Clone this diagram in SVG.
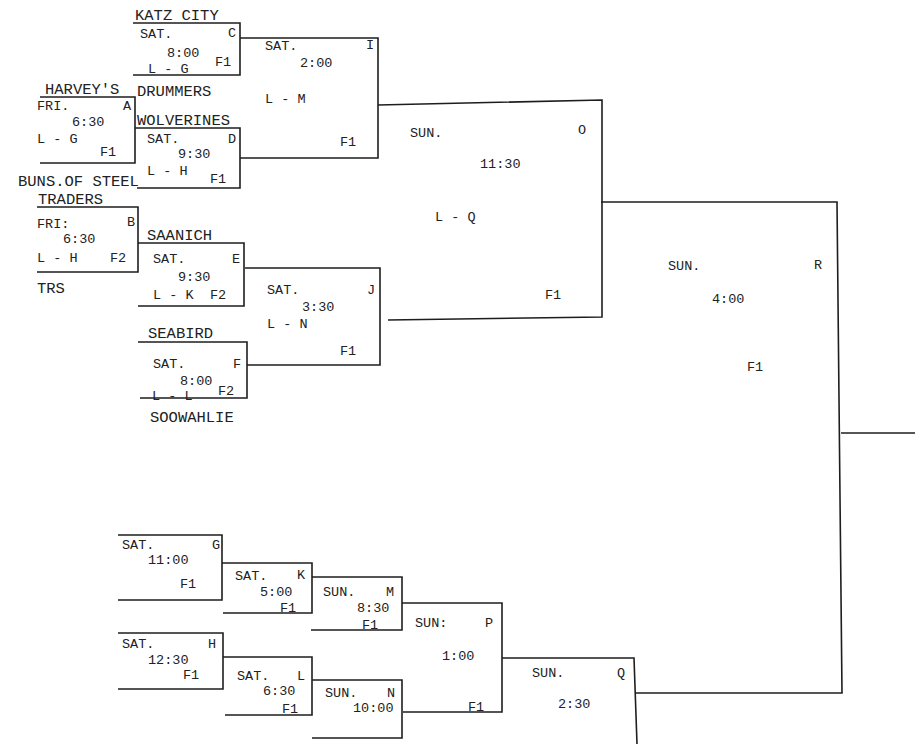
<svg xmlns="http://www.w3.org/2000/svg" width="924" height="744" viewBox="0 0 924 744">
<style>
.b{fill:none;stroke:#1e1e1e;stroke-width:1.6;stroke-linejoin:miter}
.t{font-family:"Liberation Mono","DejaVu Sans Mono",monospace;font-size:13.5px;fill:#222}
.n{font-family:"Liberation Mono","DejaVu Sans Mono",monospace;font-size:15.5px;fill:#222}
</style>
<rect width="924" height="744" fill="#fff"/>
<g id="game-C">
<path class="b" d="M133,23 H240 V75 H133"/>
<text class="n" x="135" y="20">KATZ CITY</text>
<text class="t" x="140" y="38">SAT.</text><text class="t" x="228" y="37">C</text>
<text class="t" x="167" y="57">8:00</text><text class="t" x="215" y="66">F1</text>
<text class="t" x="148" y="73">L - G</text>
<text class="n" x="137" y="96">DRUMMERS</text>
</g>
<g id="game-A">
<path class="b" d="M40,97 H135 V163 H40"/>
<text class="n" x="45" y="94">HARVEY'S</text>
<text class="t" x="37" y="110">FRI.</text><text class="t" x="123" y="110">A</text>
<text class="t" x="72" y="126">6:30</text>
<text class="t" x="37" y="143">L - G</text><text class="t" x="100" y="156">F1</text>
<text class="n" x="18" y="186">BUNS.OF STEEL</text>
</g>
<g id="game-D">
<path class="b" d="M135,128 H240 V188 H137"/>
<text class="n" x="137" y="125">WOLVERINES</text>
<text class="t" x="147" y="143">SAT.</text><text class="t" x="228" y="143">D</text>
<text class="t" x="178" y="158">9:30</text>
<text class="t" x="147" y="175">L - H</text><text class="t" x="210" y="183">F1</text>
</g>
<g id="game-I">
<path class="b" d="M240,38 H378 V158 H240"/>
<text class="t" x="265" y="50">SAT.</text><text class="t" x="366" y="49">I</text>
<text class="t" x="300" y="67">2:00</text>
<text class="t" x="265" y="103">L - M</text><text class="t" x="340" y="146">F1</text>
</g>
<g id="game-B">
<path class="b" d="M37,207 H138 V272 H37"/>
<text class="n" x="38" y="204">TRADERS</text>
<text class="t" x="37" y="228">FRI:</text><text class="t" x="127" y="226">B</text>
<text class="t" x="63" y="243">6:30</text>
<text class="t" x="37" y="262">L - H</text><text class="t" x="110" y="262">F2</text>
<text class="n" x="37" y="293">TRS</text>
</g>
<g id="game-E">
<path class="b" d="M138,243 H244 V306 H138"/>
<text class="n" x="147" y="240">SAANICH</text>
<text class="t" x="153" y="263">SAT.</text><text class="t" x="232" y="263">E</text>
<text class="t" x="178" y="281">9:30</text>
<text class="t" x="153" y="299">L - K</text><text class="t" x="210" y="299">F2</text>
</g>
<g id="game-F">
<path class="b" d="M138,342 H247 V398 H140"/>
<text class="n" x="148" y="338">SEABIRD</text>
<text class="t" x="153" y="368">SAT.</text><text class="t" x="233" y="368">F</text>
<text class="t" x="180" y="385">8:00</text><text class="t" x="218" y="395">F2</text>
<text class="t" x="152" y="400">L - L</text>
<text class="n" x="150" y="422">SOOWAHLIE</text>
</g>
<g id="game-J">
<path class="b" d="M245,268 H380 V365 H247"/>
<text class="t" x="267" y="294">SAT.</text><text class="t" x="367" y="294">J</text>
<text class="t" x="302" y="311">3:30</text>
<text class="t" x="267" y="328">L - N</text><text class="t" x="340" y="355">F1</text>
</g>
<g id="game-O">
<path class="b" d="M378,105 L602,100 V317 L388,320"/>
<text class="t" x="410" y="137">SUN.</text><text class="t" x="578" y="134">O</text>
<text class="t" x="480" y="168">11:30</text>
<text class="t" x="435" y="221">L - Q</text><text class="t" x="545" y="299">F1</text>
</g>
<g id="game-R">
<path class="b" d="M601,202 H837 L842,693 H636"/>
<text class="t" x="668" y="270">SUN.</text><text class="t" x="814" y="269">R</text>
<text class="t" x="712" y="303">4:00</text>
<text class="t" x="747" y="371">F1</text>
</g>
<g id="game-G">
<path class="b" d="M118,535 H222 V600 H118"/>
<text class="t" x="122" y="549">SAT.</text><text class="t" x="212" y="549">G</text>
<text class="t" x="148" y="564">11:00</text><text class="t" x="180" y="588">F1</text>
</g>
<g id="game-K">
<path class="b" d="M222,563 H312 V613 H223"/>
<text class="t" x="235" y="580">SAT.</text><text class="t" x="297" y="579">K</text>
<text class="t" x="260" y="596">5:00</text><text class="t" x="280" y="612">F1</text>
</g>
<g id="game-H">
<path class="b" d="M118,633 H223 V689 H118"/>
<text class="t" x="122" y="648">SAT.</text><text class="t" x="208" y="648">H</text>
<text class="t" x="148" y="664">12:30</text><text class="t" x="183" y="679">F1</text>
</g>
<g id="game-L">
<path class="b" d="M223,657 H312 V715 H225"/>
<text class="t" x="237" y="680">SAT.</text><text class="t" x="297" y="680">L</text>
<text class="t" x="263" y="695">6:30</text><text class="t" x="282" y="713">F1</text>
</g>
<g id="game-M">
<path class="b" d="M312,577 H402 V630 H311"/>
<text class="t" x="323" y="596">SUN.</text><text class="t" x="386" y="596">M</text>
<text class="t" x="357" y="612">8:30</text><text class="t" x="362" y="629">F1</text>
</g>
<g id="game-N">
<path class="b" d="M312,680 H402 V738 H312"/>
<text class="t" x="325" y="697">SUN.</text><text class="t" x="387" y="697">N</text>
<text class="t" x="353" y="712">10:00</text>
</g>
<g id="game-P">
<path class="b" d="M402,603 H502 V712 H403"/>
<text class="t" x="415" y="627">SUN:</text><text class="t" x="485" y="627">P</text>
<text class="t" x="442" y="660">1:00</text><text class="t" x="468" y="711">F1</text>
</g>
<g id="game-Q">
<path class="b" d="M502,658 H634 L637,744"/>
<text class="t" x="532" y="677">SUN.</text><text class="t" x="617" y="677">Q</text>
<text class="t" x="558" y="708">2:30</text>
</g>
<g id="connectors">
<path class="b" d="M841,433 H915"/>
</g>
</svg>
